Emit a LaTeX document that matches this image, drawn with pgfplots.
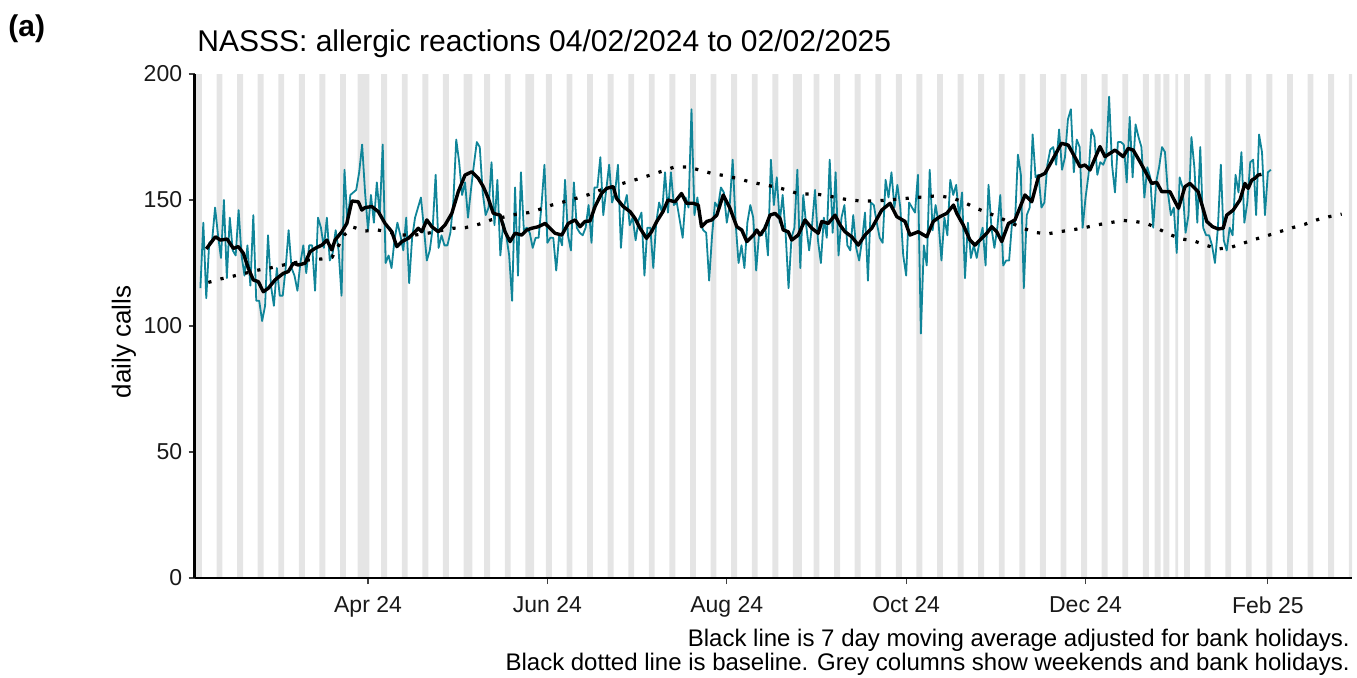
\documentclass[border=0pt]{standalone}
\usepackage{fontspec}
\setmainfont{Liberation Sans}
\usepackage{pgfplots}
\usepackage{pgfplotstable}
\pgfplotsset{compat=1.18}
\definecolor{teal1}{RGB}{16,133,153}

\pgfplotstableread{
x y
34 115
35 141
36 111
37 133
38 134
39 147
40 136
41 127
42 150
43 119
44 143
45 130
46 128
47 146
48 128
49 120
50 132
51 116
52 144
53 110
54 110
55 102
56 108
57 136
58 116
59 108
60 123
61 112
62 112
63 123
64 138
65 123
66 120
67 114
68 125
69 132
70 121
71 132
72 132
73 114
74 143
75 139
76 131
77 143
78 126
79 129
80 138
81 130
82 112
83 162
84 141
85 152
86 153
87 154
88 161
89 172
90 153
91 138
92 152
93 141
94 157
95 144
96 172
97 125
98 128
99 123
100 134
101 141
102 136
103 130
104 143
105 117
106 135
107 143
108 147
109 151
110 139
111 126
112 130
113 139
114 160
115 131
116 136
117 132
118 132
119 137
120 149
121 174
122 165
123 152
124 157
125 143
126 154
127 164
128 173
129 171
130 153
131 144
132 147
133 165
134 140
135 158
136 128
137 141
138 136
139 128
140 110
141 155
142 120
143 161
144 138
145 139
146 137
147 131
148 135
149 135
150 148
151 164
152 133
153 135
154 135
155 122
156 136
157 132
158 158
159 136
160 130
161 157
162 139
163 137
164 136
165 139
166 148
167 133
168 155
169 155
170 167
171 144
172 154
173 164
174 149
175 153
176 164
177 131
178 147
179 152
180 140
181 143
182 134
183 142
184 145
185 120
186 139
187 139
188 123
189 141
190 149
191 145
192 161
193 145
194 161
195 148
196 149
197 142
198 135
199 151
200 147
201 186
202 144
203 151
204 141
205 138
206 137
207 118
208 136
209 149
210 147
211 155
212 153
213 141
214 148
215 166
216 141
217 125
218 132
219 123
220 141
221 148
222 143
223 122
224 137
225 136
226 140
227 128
228 166
229 148
230 159
231 141
232 152
233 137
234 115
235 135
236 139
237 162
238 123
239 152
240 140
241 130
242 140
243 154
244 134
245 125
246 143
247 135
248 166
249 137
250 161
251 128
252 143
253 148
254 132
255 130
256 144
257 131
258 126
259 134
260 145
261 118
262 149
263 148
264 141
265 135
266 133
267 158
268 151
269 161
270 147
271 156
272 147
273 128
274 120
275 149
276 147
277 145
278 160
279 97
280 132
281 124
282 162
283 138
284 148
285 141
286 126
287 143
288 136
289 158
290 152
291 156
292 143
293 153
294 119
295 141
296 127
297 132
298 127
299 134
300 139
301 124
302 156
303 139
304 131
305 139
306 152
307 124
308 126
309 126
310 141
311 141
312 168
313 160
314 115
315 144
316 147
317 176
318 159
319 160
320 147
321 149
322 164
323 170
324 171
325 164
326 178
327 162
328 167
329 182
330 186
331 161
332 174
333 171
334 139
335 151
336 160
337 178
338 175
339 160
340 165
341 164
342 167
343 191
344 164
345 153
346 173
347 173
348 172
349 157
350 183
351 159
352 180
353 175
354 171
355 151
356 163
357 159
358 139
359 157
360 163
361 171
362 169
363 153
364 144
365 147
366 129
367 159
368 155
369 137
370 144
371 175
372 163
373 141
374 171
375 139
376 136
377 136
378 132
379 125
380 139
381 164
382 134
383 130
384 139
385 136
386 160
387 153
388 169
389 141
390 149
391 165
392 166
393 144
394 176
395 169
396 144
397 161
398 162
}\daily

\pgfplotstableread{
x y
36.0 130.6
39.1 135.4
40.8 134.1
43.1 134.5
45.2 130.8
46.9 131.5
48.6 128.9
50.3 122.9
52.0 118.3
53.7 117.6
55.4 113.6
57.1 115.0
59.4 118.3
62.2 120.9
63.9 121.6
65.6 124.9
67.3 124.2
69.6 124.9
71.3 129.5
73.0 130.8
75.3 132.1
77.0 134.1
78.7 130.2
79.8 134.1
82.1 137.4
83.8 140.7
85.5 149.6
87.7 149.3
88.9 146.0
90.0 147.0
92.3 147.4
94.5 145.4
96.8 140.7
99.1 137.4
100.8 131.5
102.5 133.5
104.7 134.8
107.0 137.4
108.1 138.8
109.3 137.4
111.0 142.1
112.7 139.4
114.9 137.4
117.2 140.1
119.5 144.7
121.7 153.3
124.0 159.9
126.3 161.2
128.5 158.6
130.2 155.3
131.9 150.7
133.6 144.7
135.9 144.0
137.6 137.4
139.3 133.5
141.0 136.8
143.3 136.1
145.0 138.1
146.7 138.8
148.9 139.4
151.2 140.7
154.6 136.8
156.9 136.1
159.1 140.7
161.4 142.1
163.1 139.4
164.8 141.5
166.5 141.7
168.2 147.4
170.4 152.6
172.1 154.6
174.4 155.3
175.5 150.7
177.8 147.4
180.1 145.4
181.8 142.7
183.5 138.8
185.7 134.8
187.4 137.4
189.2 141.5
191.3 145.4
193.0 150.0
195.4 149.3
197.6 152.6
199.3 148.7
201.6 148.7
203.3 148.0
204.4 139.4
206.2 141.5
207.9 142.1
209.6 144.0
211.8 152.0
214.1 146.7
216.4 139.4
218.1 138.1
219.8 133.5
222.1 136.1
223.2 138.1
224.3 136.1
226.0 138.8
227.7 144.0
229.4 144.7
231.1 142.7
232.2 138.1
233.9 137.4
235.1 134.1
237.3 136.1
239.6 142.1
241.9 138.8
244.1 136.8
245.3 141.5
247.5 140.7
249.8 144.0
251.5 140.1
253.2 137.4
255.5 135.4
257.7 132.1
260.0 136.1
262.3 138.8
265.7 146.0
268.5 148.7
270.8 143.4
273.6 141.5
275.3 136.1
278.1 137.4
281.0 135.4
283.2 141.5
285.5 143.4
287.8 144.7
290.1 148.0
291.2 144.7
293.4 140.1
295.7 134.1
297.4 132.1
299.7 134.8
301.4 136.8
303.1 139.4
304.8 137.4
306.5 133.5
308.8 140.7
311.0 142.1
314.4 152.0
316.7 149.3
319.0 159.3
321.2 160.6
323.4 165.2
326.8 172.5
329.1 171.8
331.9 165.9
333.1 163.2
334.8 163.9
336.5 161.9
339.9 171.2
341.6 167.2
345.0 169.8
347.8 167.2
349.5 170.5
351.2 169.8
353.5 165.2
357.5 156.6
359.2 157.0
360.9 153.3
363.7 153.3
366.6 146.7
368.8 155.3
370.5 156.6
373.3 153.3
376.2 141.5
378.2 139.4
380.1 138.5
381.8 138.8
383.0 144.0
385.2 146.0
387.5 150.0
389.2 156.6
390.3 154.6
391.5 157.9
392.6 158.6
393.7 159.9
394.8 160.2
}\movavg

\pgfplotstableread{
x y
36.7 117.3
41.0 118.7
45.2 119.8
53.7 122.2
58.0 123.1
62.2 124.2
70.8 126.2
75.2 126.6
78.8 127.3
80.9 131.7
82.9 136.1
86.0 139.2
90.0 137.7
94.3 138.1
102.7 136.1
107.0 136.1
111.3 136.8
119.9 138.8
124.0 139.0
128.5 140.3
132.8 142.1
141.3 144.3
145.6 145.0
149.4 146.3
153.5 148.0
157.7 149.3
161.9 150.7
166.2 152.2
170.2 154.0
174.4 155.3
178.5 156.9
182.7 158.3
187.0 159.9
191.2 161.5
195.2 163.1
199.7 163.1
203.7 161.9
207.7 160.6
212.1 159.7
216.4 158.6
220.6 157.3
224.9 156.2
229.1 155.3
233.4 154.0
237.6 152.4
241.9 152.4
246.1 152.0
250.4 150.9
254.7 150.0
258.9 149.6
263.4 149.6
267.7 150.0
271.9 150.4
276.4 150.9
280.7 151.3
284.9 151.7
289.2 150.9
293.4 149.3
297.4 146.9
301.4 145.1
305.5 143.1
313.3 139.0
317.6 137.2
321.8 136.5
326.0 137.4
330.3 138.1
334.6 139.0
338.8 140.1
343.3 141.0
347.7 141.9
351.8 141.5
356.0 140.6
360.0 138.4
364.0 136.1
368.0 134.5
372.0 133.7
376.0 132.0
380.2 130.6
384.4 131.2
388.7 132.9
392.9 134.5
397.2 136.0
401.2 137.5
405.3 139.0
409.4 140.3
413.6 142.1
417.9 143.4
422.1 144.4
}\baseline

\pgfplotstableread{
x y
33 200
34 200
40 200
41 200
47 200
48 200
54 200
55 200
61 200
62 200
68 200
69 200
75 200
76 200
82 200
83 200
88 200
89 200
90 200
91 200
96 200
97 200
103 200
104 200
110 200
111 200
117 200
118 200
124 200
125 200
126 200
131 200
132 200
138 200
139 200
145 200
146 200
147 200
152 200
153 200
159 200
160 200
166 200
167 200
173 200
174 200
180 200
181 200
187 200
188 200
194 200
195 200
201 200
202 200
208 200
209 200
215 200
216 200
222 200
223 200
229 200
230 200
236 200
237 200
238 200
243 200
244 200
250 200
251 200
257 200
258 200
264 200
265 200
271 200
272 200
278 200
279 200
285 200
286 200
292 200
293 200
299 200
300 200
306 200
307 200
313 200
314 200
320 200
321 200
327 200
328 200
334 200
335 200
341 200
342 200
348 200
349 200
355 200
356 200
359 200
360 200
362 200
363 200
366 200
369 200
370 200
376 200
377 200
383 200
384 200
390 200
391 200
397 200
398 200
404 200
405 200
411 200
412 200
418 200
419 200
425 200
426 200
}\greydays

\begin{document}
\begin{tikzpicture}
\path[use as bounding box] (0,0) rectangle (678.5pt,338.5pt);
\begin{axis}[
  at={(97.25pt,49.5pt)}, anchor=south west,
  scale only axis, width=578.75pt, height=252pt,
  xmin=32, xmax=425.6, ymin=0, ymax=200,
  axis on top,
  axis x line*=bottom, axis y line*=left,
  axis line style={line width=1.1pt, black, -},
  xtick={91,152,213,274,335,397},
  xticklabels={Apr 24, Jun 24, Aug 24, Oct 24, Dec 24, Feb 25},
  ytick={0,50,100,150,200},
  yticklabels={0,50,100,150,200},
  tick align=outside, major tick length=3pt,
  tick style={line width=0.6pt, black!75},
  ticklabel style={font=\fontsize{11.5}{13}\selectfont, text=black!90},
  xticklabel style={anchor=north, inner sep=0pt, yshift=-6pt},
  yticklabel style={anchor=east, inner sep=0pt, xshift=-3pt},
  clip=true,
]
\addplot[ybar, bar width=1, fill=gray!20, draw=none] table {\greydays};
\addplot[teal1, line width=0.9pt, line join=round, mark=none] table {\daily};
\addplot[black, line width=1.7pt, line join=round, mark=none] table {\movavg};
\addplot[black, line width=1.6pt, dash pattern=on 1.6pt off 4.7pt, mark=none] table {\baseline};
\end{axis}
\node[anchor=base west, inner sep=0pt, font=\fontsize{15}{18}\selectfont] at (98.5pt,312.5pt) {NASSS: allergic reactions 04/02/2024 to 02/02/2025};
\node[anchor=base west, inner sep=0pt, font=\bfseries\fontsize{15}{18}\selectfont] at (4pt,320pt) {(a)};
\node[rotate=90, inner sep=0pt, font=\fontsize{13}{15}\selectfont] at (62pt,167.5pt) {daily calls};
\node[anchor=base east, font=\fontsize{12}{14}\selectfont, inner sep=0pt] at (675pt,15.5pt) {Black line is 7 day moving average adjusted for bank holidays.};
\node[anchor=base east, font=\fontsize{12}{14}\selectfont, inner sep=0pt] at (675pt,3.5pt) {Black dotted line is baseline. Grey columns show weekends and bank holidays.};
\end{tikzpicture}
\end{document}
